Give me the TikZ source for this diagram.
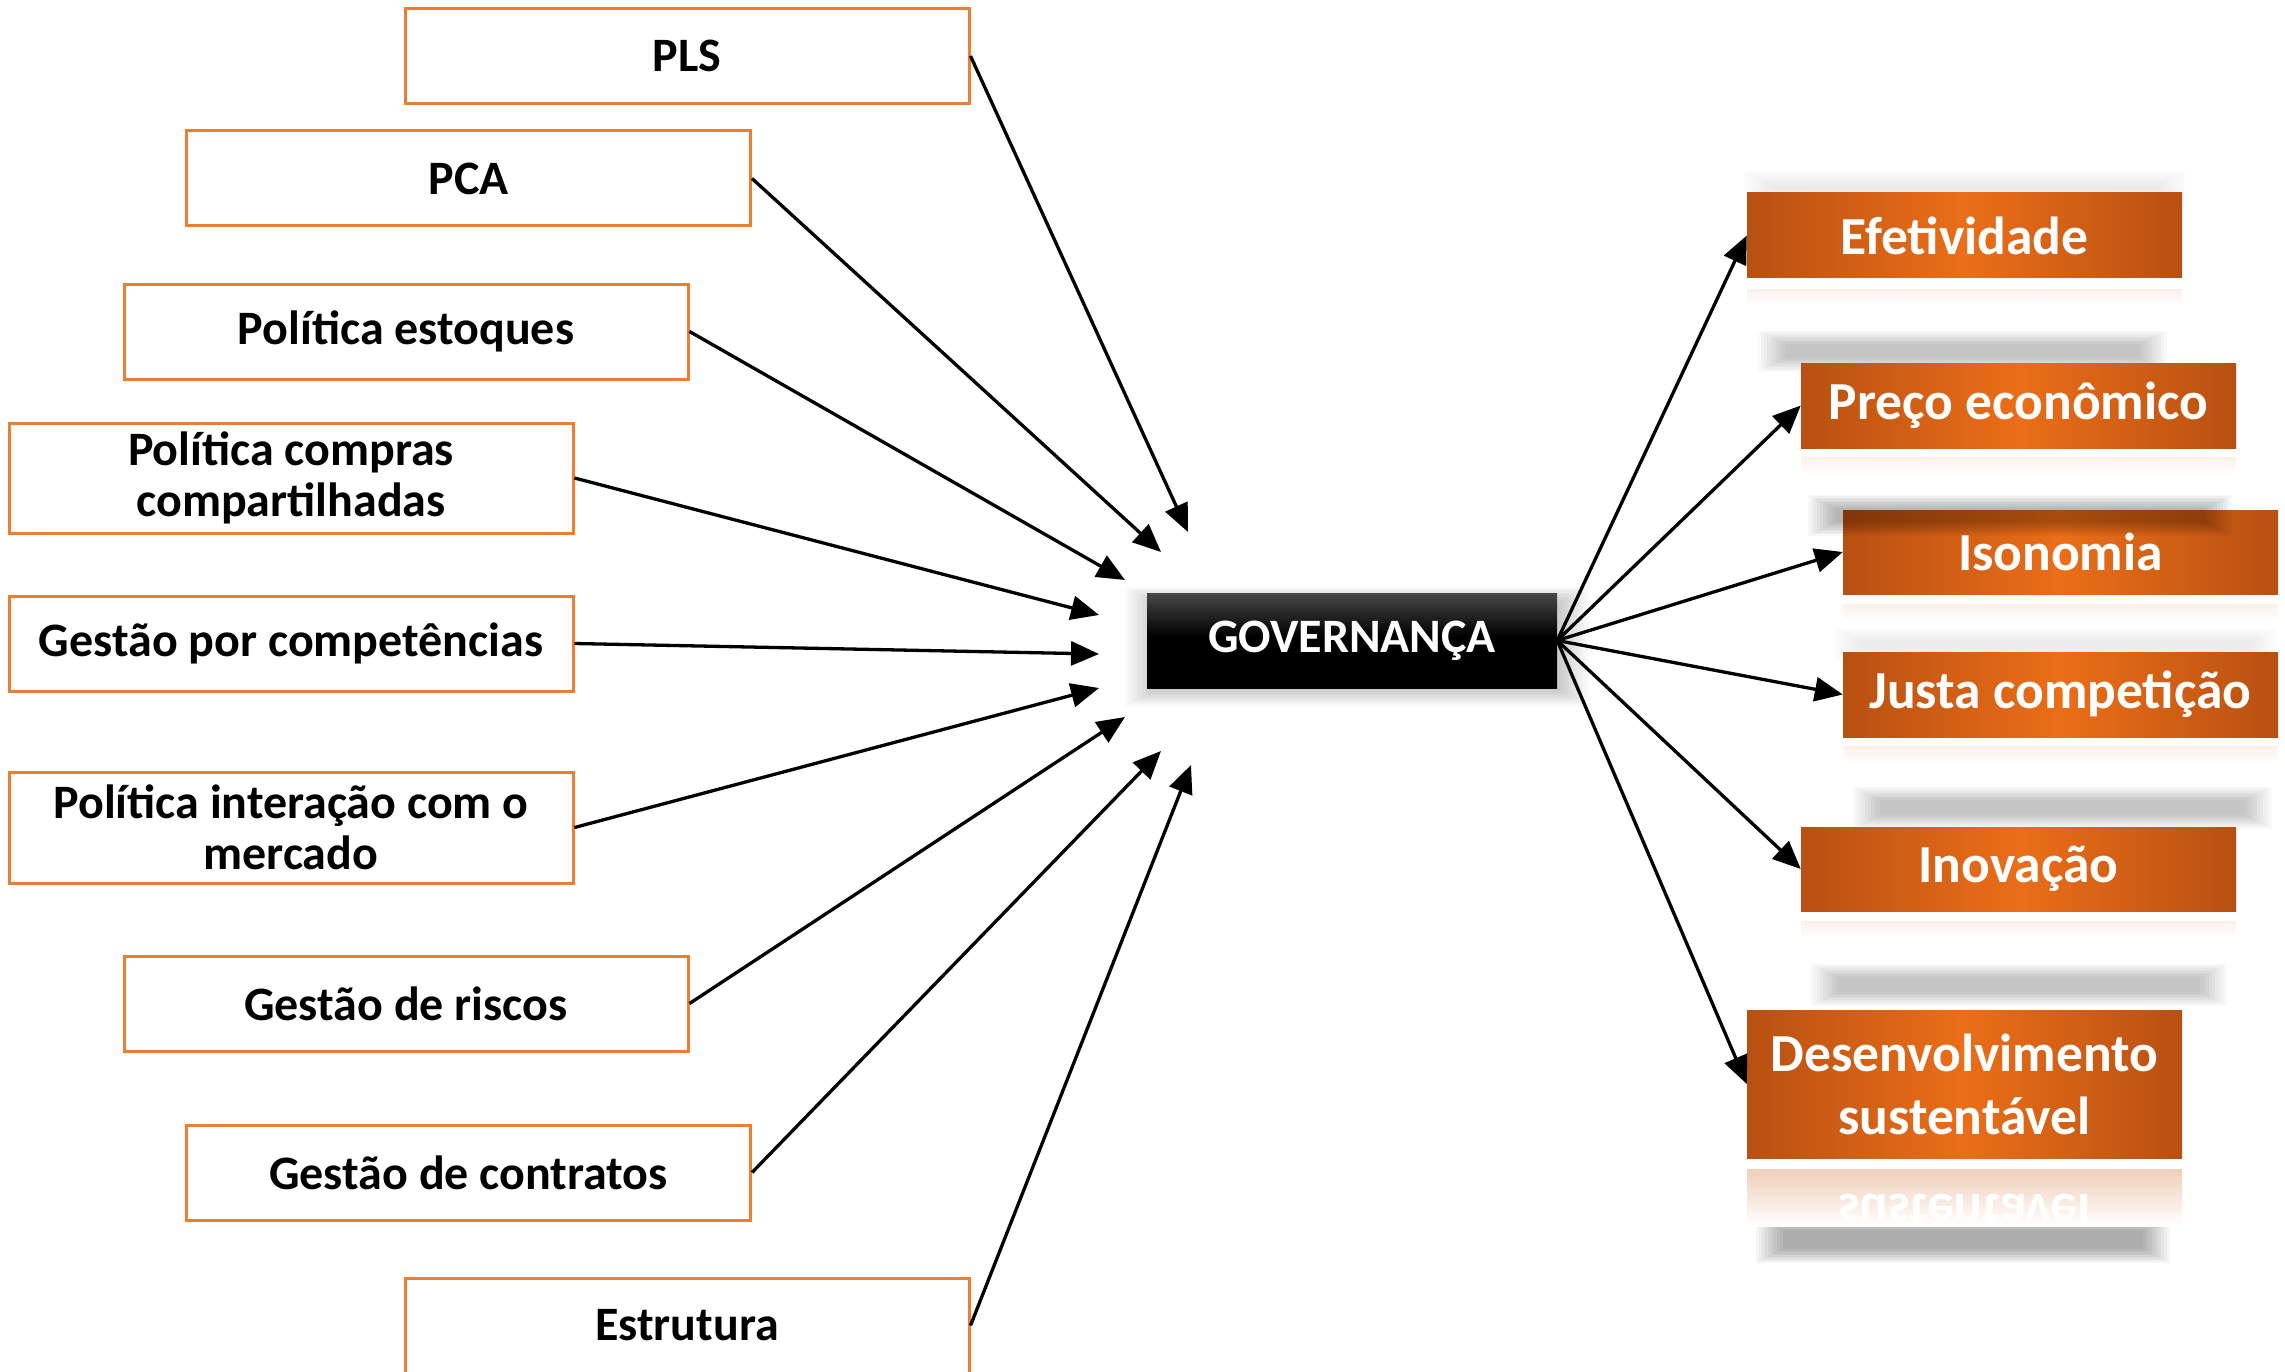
\documentclass[tikz,border=0pt]{standalone}
\usepackage{fontspec}
\setmainfont{Carlito}
\usetikzlibrary{arrows.meta}
\definecolor{boxorange}{RGB}{237,125,49}
\definecolor{obdark}{RGB}{184,80,18}
\definecolor{oblight}{RGB}{235,110,24}
\definecolor{govtop}{RGB}{72,72,72}
\definecolor{peach}{RGB}{251,240,233}
\definecolor{peachdeep}{RGB}{239,207,184}
\pgfdeclareverticalshading{govshade}{100bp}{color(0bp)=(black); color(25bp)=(black); color(52bp)=(black); color(75bp)=(govtop); color(100bp)=(govtop)}
\newcommand{\softbar}[5]{\foreach \k in {0,...,9}{\fill[black,fill opacity=#5] ({#1-3*\k},{#2-1.5*\k}) rectangle ({#3+3*\k},{#4+1.5*\k});}}
\tikzset{
  lbox/.style={draw=boxorange, line width=3pt, fill=white, minimum width=564pt, minimum height=95pt, inner sep=0pt, align=center, text=black, font=\fontsize{48}{51}\selectfont\bfseries},
  rbox/.style={left color=obdark, right color=obdark, middle color=oblight, minimum width=435pt, minimum height=85pt, inner sep=0pt, align=center, text=white, font=\fontsize{53.5}{63}\selectfont\bfseries},
  govbox/.style={shading=govshade, minimum width=410pt, minimum height=95pt, inner sep=0pt, text=white, font=\fontsize{48}{51}\selectfont\bfseries},
  arr/.style={line width=3.3pt, -{Triangle[length=28pt,width=24pt]}},
  refl/.style={top color=peach, bottom color=white, draw=none}
}
\begin{document}
\begin{tikzpicture}[x=1pt,y=-1pt]
\useasboundingbox[fill=white] (0,0) rectangle (2285,1372);

% soft shadow bars
\softbar{1770}{184}{2160}{190}{0.006}
\softbar{1785}{344}{2140}{358}{0.025}
\softbar{1860}{641}{2250}{648}{0.008}
\softbar{1880}{800}{2245}{815}{0.025}
\softbar{1838}{977}{2200}{992}{0.025}
\softbar{1783}{1230}{2143}{1249}{0.036}
\softbar{1152}{600}{1562}{692}{0.018}

% reflections
\fill[refl] (1747,289) rectangle (2182,305);
\fill[refl] (1801,457) rectangle (2236,474);
\fill[refl] (1843,604) rectangle (2278,620);
\fill[refl] (1843,746) rectangle (2278,762);
\fill[refl] (1801,921) rectangle (2236,937);
\begin{scope}
  \clip (1747,1169) rectangle (2182,1226);
  \fill[top color=peachdeep, bottom color=white] (1747,1169) rectangle (2182,1226);
  \node[text=white, font=\fontsize{53.5}{63}\selectfont\bfseries, anchor=base, yscale=-1] (mirror) at (1964.5,1194) {sustentável};
\end{scope}

% left boxes
\node[lbox] (pls) at (687,56) {PLS};
\node[lbox] (pca) at (468.5,178.5) {PCA};
\node[lbox] (est) at (406,331.5) {Política estoques};
\node[lbox, minimum height=110pt] (comp) at (291,478) {Política compras\\compartilhadas};
\node[lbox] (gcomp) at (291,643.5) {Gestão por competências};
\node[lbox, minimum height=111pt] (inter) at (291,827.5) {Política interação com o\\mercado};
\node[lbox] (risc) at (406,1003.5) {Gestão de riscos};
\node[lbox] (contr) at (468.5,1172.5) {Gestão de contratos};
\node[lbox] (estr) at (687,1325.5) {Estrutura};

% centre
\node[govbox] (gov) at (1352,640.5) {GOVERNANÇA};

% right boxes
\node[rbox] (efe) at (1964.5,235.5) {Efetividade};
\node[rbox] (preco) at (2018.5,405.5) {Preço econômico};
\node[rbox, minimum height=84pt] (iso) at (2060.5,552) {Isonomia};
\node[rbox] (justa) at (2060.5,694.5) {Justa competição};
\node[rbox, minimum height=84pt] (inov) at (2018.5,869) {Inovação};
\node[rbox, minimum height=148pt] (desen) at (1964.5,1084) {Desenvolvimento\\sustentável};

\softbar{1835}{508}{2205}{522}{0.03}

% arrow targets near the centre box
\coordinate (t1) at (1188,532);
\coordinate (t2) at (1161,552);
\coordinate (t3) at (1125,580);
\coordinate (t4) at (1099,615);
\coordinate (t5) at (1099,654);
\coordinate (t6) at (1099,688);
\coordinate (t7) at (1125,717);
\coordinate (t8) at (1161,751);
\coordinate (t9) at (1191,765);

\draw[arr] (pls.east) -- (t1);
\draw[arr] (pca.east) -- (t2);
\draw[arr] (est.east) -- (t3);
\draw[arr] (comp.east) -- (t4);
\draw[arr] (gcomp.east) -- (t5);
\draw[arr] (inter.east) -- (t6);
\draw[arr] (risc.east) -- (t7);
\draw[arr] (contr.east) -- (t8);
\draw[arr] (estr.east) -- (t9);

\draw[arr] (gov.east) -- (efe.west);
\draw[arr] (gov.east) -- (preco.west);
\draw[arr] (gov.east) -- (iso.west);
\draw[arr] (gov.east) -- (justa.west);
\draw[arr] (gov.east) -- (inov.west);
\draw[arr] (gov.east) -- (desen.west);
\end{tikzpicture}
\end{document}
